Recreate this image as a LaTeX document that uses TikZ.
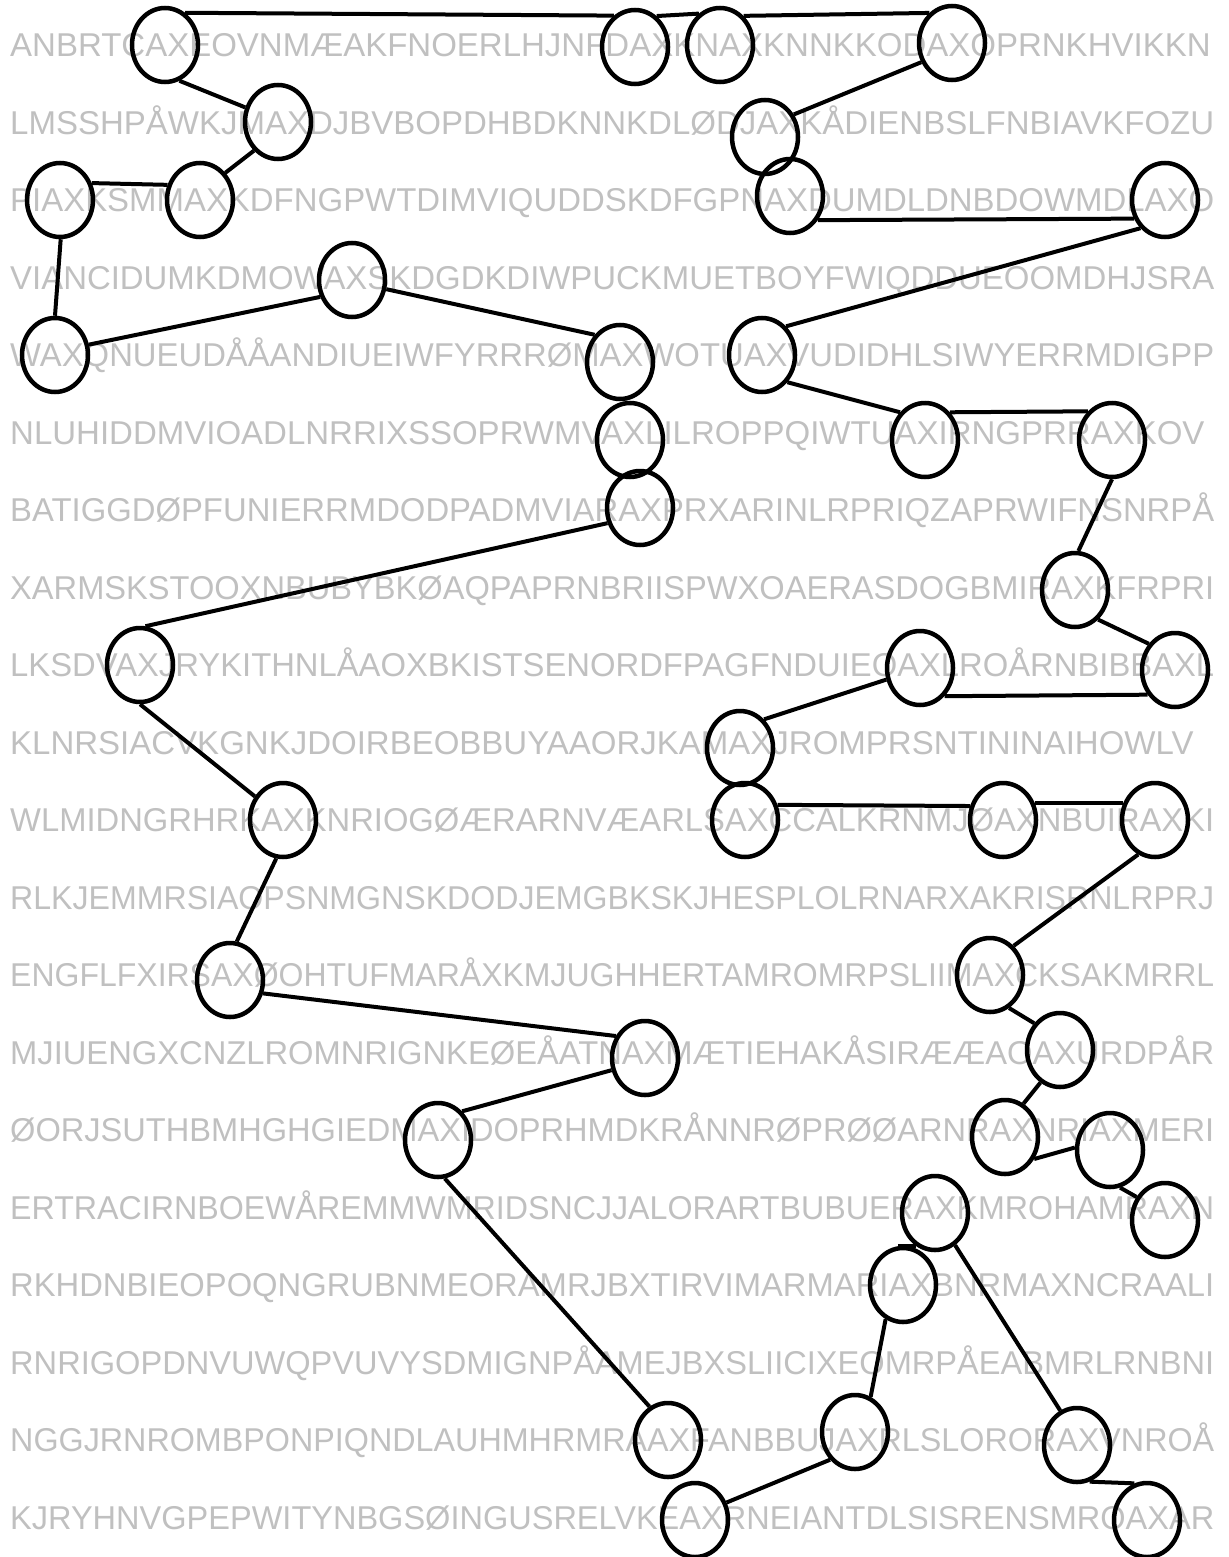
\documentclass[tikz,border=0pt]{standalone}
\usepackage{fontspec}
\setmainfont{Liberation Sans}
\usetikzlibrary{shapes.geometric}
\definecolor{grid}{RGB}{192,192,192}
% squeeze a row of letters that runs past the right margin
\newsavebox\rowbox
\newcommand{\fitrow}[1]{\sbox\rowbox{#1}%
    \ifdim\wd\rowbox>1204pt \resizebox{1204pt}{\height}{#1}\else\usebox\rowbox\fi}

\begin{document}
\begin{tikzpicture}[x=1pt, y=1pt,
    letters/.style={anchor=base west, inner sep=0pt, text=grid,
        font=\fontsize{33}{40}\selectfont},
    ring/.style={ellipse, draw, line width=4.5pt, minimum width=66pt,
        minimum height=74pt, inner sep=0pt},
    link/.style={line width=4pt}]
    \useasboundingbox (0,0) rectangle (1228,-1557);

    % letter grid
    \foreach \r/\t in {
        1/ANBRTCAXEOVNMÆAKFNOERLHJNFDAXKNAXKNNKKODAXOPRNKHVIKKN,
        2/LMSSHPÅWKJMAXDJBVBOPDHBDKNNKDLØDJAXKÅDIENBSLFNBIAVKFOZU,
        3/PIAXKSMMAXKDFNGPWTDIMVIQUDDSKDFGPNAXDUMDLDNBDOWMDLAXO,
        4/VIANCIDUMKDMOWAXSKDGDKDIWPUCKMUETBOYFWIQDDUEOOMDHJSRA,
        5/WAXQNUEUDÅÅANDIUEIWFYRRRØMAXWOTUAXVUDIDHLSIWYERRMDIGPP,
        6/NLUHIDDMVIOADLNRRIXSSOPRWMVAXLILROPPQIWTUAXIRNGPRRAXKOV,
        7/BATIGGDØPFUNIERRMDODPADMVIARAXPRXARINLRPRIQZAPRWIFNSNRPÅ,
        8/XARMSKSTOOXNBUBYBKØAQPAPRNBRIISPWXOAERASDOGBMIRAXKFRPRI,
        9/LKSDVAXJRYKITHNLÅAOXBKISTSENORDFPAGFNDUIEOAXLROÅRNBIBBAXL,
        10/KLNRSIACVKGNKJDOIRBEOBBUYAAORJKAMAXJROMPRSNTININAIHOWLV,
        11/WLMIDNGRHRKAXKNRIOGØÆRARNVÆARLSAXCCALKRNMJØAXNBUIRAXKI,
        12/RLKJEMMRSIAOPSNMGNSKDODJEMGBKSKJHESPLOLRNARXAKRISRNLRPRJ,
        13/ENGFLFXIRSAXØOHTUFMARÅXKMJUGHHERTAMROMRPSLIIMAXCKSAKMRRL,
        14/MJIUENGXCNZLROMNRIGNKEØEÅATNAXMÆTIEHAKÅSIRÆÆAOAXURDPÅR,
        15/ØORJSUTHBMHGHGIEDMAXIDOPRHMDKRÅNNRØPRØØARNRAXNRIAXMERI,
        16/ERTRACIRNBOEWÅREMMWMRIDSNCJJALORARTBUBUERAXKMROHAMRAXN,
        17/RKHDNBIEOPOQNGRUBNMEORAMRJBXTIRVIMARMARIAXBNRMAXNCRAALI,
        18/RNRIGOPDNVUWQPVUVYSDMIGNPÅAMEJBXSLIICIXEOMRPÅEABMRLRNBNI,
        19/NGGJRNROMBPONPIQNDLAUHMHRMRAAXFANBBUJAXRLSLORORAXVNROÅ,
        20/KJRYHNVGPEPWITYNBGSØINGUSRELVKEAXRNEIANTDLSISRENSMROAXAR}
        \node[letters] (row\r) at (10, {-56.8-(\r-1)*77.5}) {\fitrow{\t}};

    % rings
    \foreach \n/\x/\y in {
        a1/165/45, a2/635/47, a3/720/45, a4/952/43,
        b1/278/122, b2/765/137,
        c1/60/200, c2/200/200, c3/790/196, c4/1165/200,
        d1/352/280,
        e1/55/355, e2/620/362, e3/762/355,
        f1/630/440, f2/925/440, f3/1112/440,
        g1/640/508,
        h1/1075/590,
        i1/140/665, i2/920/668, i3/1175/670,
        j1/740/748,
        k1/283/820, k2/745/820, k3/1003/820, k4/1155/820,
        m1/230/980, m2/990/975,
        n1/645/1058, n2/1060/1050,
        o1/438/1140, o2/1005/1137, o3/1110/1150,
        p1/935/1213, p2/1165/1220,
        q1/903/1285,
        r1/668/1440, r2/855/1432, r3/1077/1445,
        s1/695/1520, s2/1147/1520}
        \node[ring] (\n) at (\x,-\y) {};

    % path from the left
    \foreach \p/\q in {
        a1.58/a2.124, a2.55/a3.124, a3.51/a4.127,
        a1.292/b1.156, b1.230/c2.47, c2.155/c1.28, c1.271/e1.90,
        e1.17/d1.208, d1.345/e2.133, g1.205/i1.82, i1.270/k1.140,
        k1.260/m1.80, m1.338/n1.143, n1.200/o1.50, o1.280/r1.119,
        s1.29/r2.228, r2.66/q1.243, q1.97/p1.240, p1.302/r3.116,
        r3.289/s2.109}
        \draw[link] (\p) -- (\q);

    % path from the right
    \foreach \p/\q in {
        a4.212/b2.38, c3.319/c4.211, c4.229/e3.50, e3.313/f2.132,
        f2.48/f3.130, f3.270/h1.85, h1.308/i3.135, i3.222/i2.311,
        i2.199/j1.50, k2.25/k3.157, k3.28/k4.152, k4.244/m2.51,
        m2.300/n2.134, n2.239/o2.61, o2.323/o3.176, o3.285/p2.141}
        \draw[link] (\p) -- (\q);

\end{tikzpicture}
\end{document}
